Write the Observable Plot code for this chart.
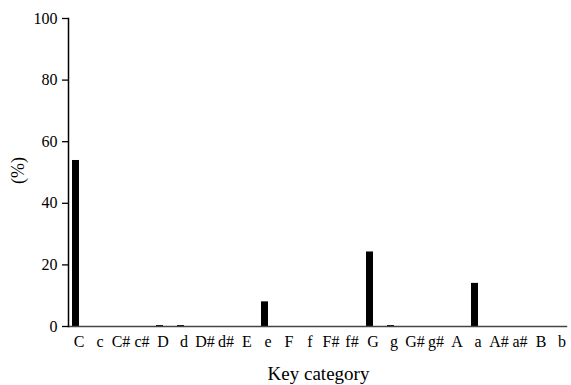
<!DOCTYPE html>
<html>
<head>
<meta charset="utf-8">
<script src="https://cdn.jsdelivr.net/npm/d3@7"></script>
<script src="https://cdn.jsdelivr.net/npm/@observablehq/plot@0.6"></script>
<style>
  html, body { margin: 0; padding: 0; background: #fff; }
  svg text { font-family: "Liberation Serif", "Times New Roman", serif !important; }
</style>
</head>
<body>
<div id="chart"></div>
<script>
const keys = ["C","c","C#","c#","D","d","D#","d#","E","e","F","f","F#","f#","G","g","G#","g#","A","a","A#","a#","B","b"];
const percents = [53.9,0,0,0,0.3,0.3,0,0,0,8,0,0,0,0,24.2,0.3,0,0,0,14,0,0,0,0];
const yTicks = [0,20,40,60,80,100];
const yLabel = "(%)";
const xLabel = "Key category";

const data = keys.map((k, i) => ({key: k, value: percents[i]}));
const font = "Liberation Serif";

const chart = Plot.plot({
  width: 571,
  height: 385,
  marginTop: 18,
  marginBottom: 59,
  marginLeft: 68,
  marginRight: 5,
  style: {fontFamily: font, fontSize: "15px", background: "#fff", color: "#000"},
  x: {domain: keys, padding: 0.645, paddingOuter: 0.1065, label: null},
  y: {domain: [0, 100], label: null},
  marks: [
    Plot.barY(data, {x: "key", y: "value", fill: "#000"}),
    Plot.frame({anchor: "bottom", stroke: "#444", strokeWidth: 1.5}),
    Plot.frame({anchor: "left", stroke: "#000", strokeWidth: 1.5}),
    Plot.axisY({ticks: yTicks, tickSize: 6, tickPadding: 5, fontSize: 16, fontFamily: font, label: null, strokeWidth: 1.3}),
    Plot.axisX({tickSize: 0, tickPadding: 9, fontSize: 16, fontFamily: font, dx: 3, label: null}),
    Plot.text([yLabel], {frameAnchor: "left", textAnchor: "middle", lineAnchor: "middle", dx: -50, dy: -2, rotate: -90, fontSize: 18, fontFamily: font, fill: "#000"}),
    Plot.text([xLabel], {frameAnchor: "bottom", textAnchor: "middle", lineAnchor: "middle", dx: 1, dy: 47, fontSize: 19, fontFamily: font, fill: "#000"})
  ]
});
document.getElementById("chart").appendChild(chart);
</script>
</body>
</html>
